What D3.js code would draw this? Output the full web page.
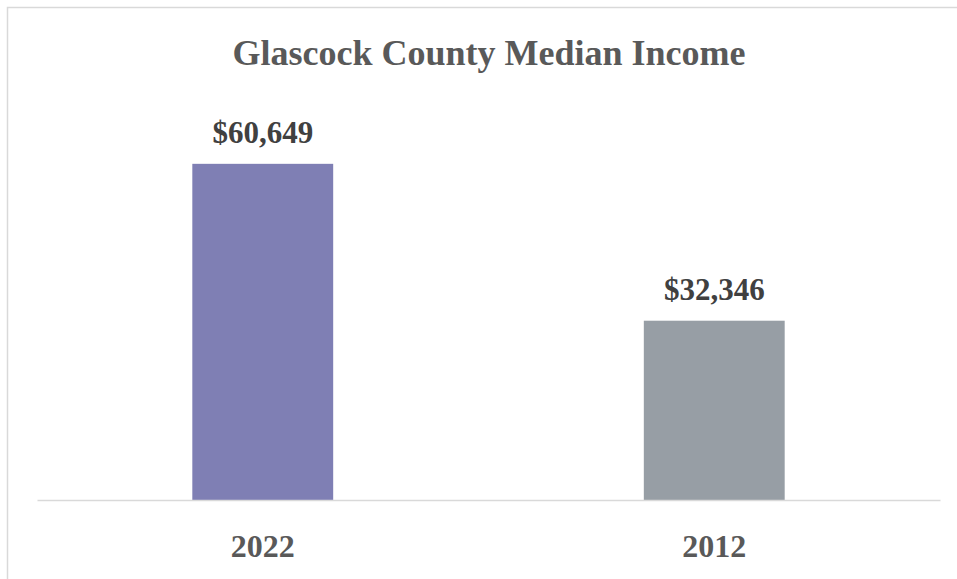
<!DOCTYPE html>
<html>
<head>
<meta charset="utf-8">
<script src="https://cdn.jsdelivr.net/npm/d3@7"></script>
<style>
  body { margin: 0; background: #fff; }
  text { font-family: "Liberation Serif", "DejaVu Serif", serif; font-weight: bold; }
</style>
</head>
<body>
<div id="chart"></div>
<script>
const years = ['2022', '2012']
const income = [60649, 32346]
const colors = ['#7f7fb4', '#979ea5']

const width = 957
const height = 579
const margin = { top: 112, bottom: 79, left: 37, right: 17 }

const svg = d3.select('#chart')
  .append('svg')
  .attr('width', width)
  .attr('height', height)

// outer frame, only top and left edges show in the picture
svg.append('rect')
  .attr('x', 7.5).attr('y', 7.5)
  .attr('width', width + 20).attr('height', height + 20)
  .attr('fill', 'none')
  .attr('stroke', '#d9d9d9')
  .attr('stroke-width', 1.5)

const x = d3.scaleBand()
  .domain(years)
  .range([margin.left, width - margin.right])
  .paddingInner(0.688)
  .paddingOuter(0.344)

const y = d3.scaleLinear()
  .domain([0, 70000])
  .range([height - margin.bottom, margin.top])

svg.append('text')
  .attr('x', 489)
  .attr('y', 65)
  .attr('text-anchor', 'middle')
  .attr('font-size', 36)
  .attr('fill', '#595959')
  .text('Glascock County Median Income')

svg.append('g')
  .selectAll('rect')
  .data(years)
  .join('rect')
    .attr('x', d => x(d))
    .attr('y', (d, i) => y(income[i]))
    .attr('width', x.bandwidth())
    .attr('height', (d, i) => y(0) - y(income[i]))
    .attr('fill', (d, i) => colors[i])

svg.append('g')
  .selectAll('text')
  .data(years)
  .join('text')
    .attr('x', d => x(d) + x.bandwidth() / 2)
    .attr('y', (d, i) => y(income[i]) - 21)
    .attr('text-anchor', 'middle')
    .attr('font-size', 31)
    .attr('fill', '#404040')
    .text((d, i) => '$' + d3.format(',')(income[i]))

function xAxis(g) {
  g.attr('transform', `translate(0, ${y(0)})`)
    .call(d3.axisBottom(x).tickSize(0))
  g.select('.domain').attr('stroke', '#d9d9d9').attr('stroke-width', 1.5)
  g.selectAll('.tick text')
    .attr('y', 57)
    .attr('dy', 0)
    .attr('font-size', 32)
    .attr('fill', '#595959')
    .attr('font-family', '"Liberation Serif", serif')
}

svg.append('g').call(xAxis)
</script>
</body>
</html>
